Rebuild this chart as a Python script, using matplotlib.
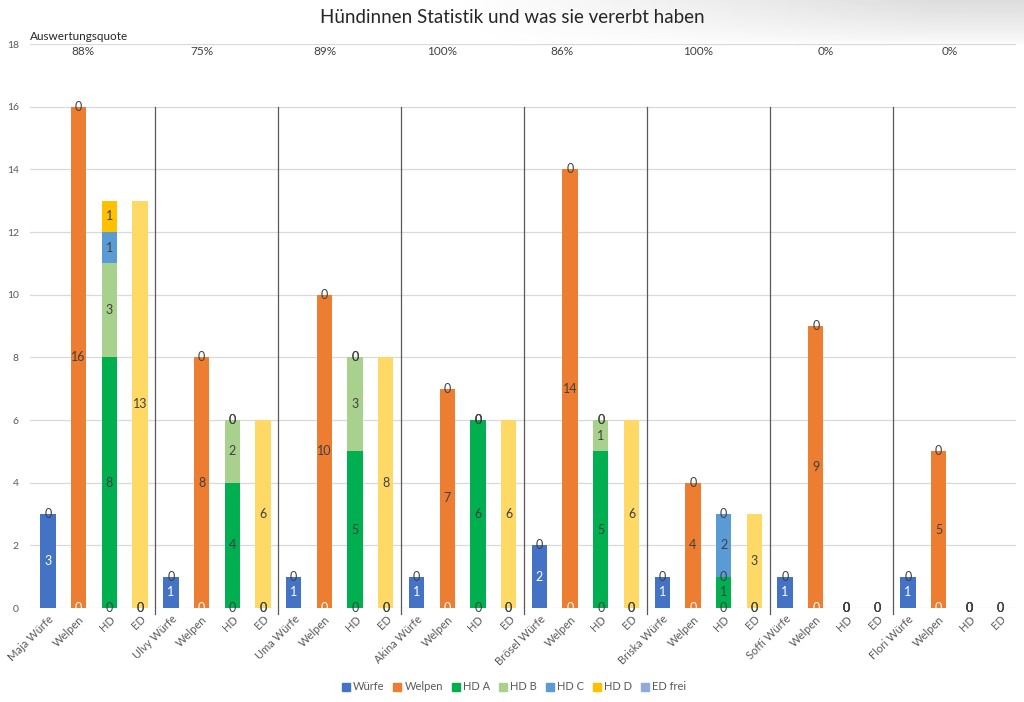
import numpy as np
import matplotlib
matplotlib.use("Agg")
import matplotlib.pyplot as plt
from matplotlib.patches import Patch

plt.rcParams["font.family"] = ["Lato", "DejaVu Sans"]

# data
HUENDINNEN = ["Maja", "Ulvy", "Uma", "Akina", "Brösel", "Briska", "Soffi", "Flori"]
WUERFE = [3, 1, 1, 1, 2, 1, 1, 1]
WELPEN = [16, 8, 10, 7, 14, 4, 9, 5]
HD_A = [8, 4, 5, 6, 5, 1, 0, 0]
HD_B = [3, 2, 3, 0, 1, 0, 0, 0]
HD_C = [1, 0, 0, 0, 0, 2, 0, 0]
HD_D = [1, 0, 0, 0, 0, 0, 0, 0]
ED = [13, 6, 8, 6, 6, 3, 0, 0]
QUOTE = ["88%", "75%", "89%", "100%", "86%", "100%", "0%", "0%"]

# where Excel put the quote labels (in category units)
QUOTE_POS = [1.14, 5.02, 9.02, 12.83, 16.74, 21.17, 25.33, 29.37]

COLORS = {
    "Würfe": "#4472C4",
    "Welpen": "#ED7D31",
    "HD A": "#00B050",
    "HD B": "#A9D18E",
    "HD C": "#5B9BD5",
    "HD D": "#FFC000",
    "ED frei": "#8FAADC",
    "ED": "#FFD966",
}
DARK = "#404040"
GRAY = "#595959"


def build_stacks():
    """Returns per-category lists of (series, value, label colour)."""
    cats, stacks = [], []
    for i, name in enumerate(HUENDINNEN):
        cats += [f"{name} Würfe", "Welpen", "HD", "ED"]
        stacks.append([("Würfe", WUERFE[i], "white"), ("Welpen", 0, DARK)])
        stacks.append([("Würfe", 0, "white"), ("Welpen", WELPEN[i], DARK),
                       ("HD A", 0, DARK)])
        stacks.append([("Welpen", 0, DARK), ("HD A", HD_A[i], DARK),
                       ("HD B", HD_B[i], DARK), ("HD C", HD_C[i], DARK),
                       ("HD D", HD_D[i], DARK)])
        stacks.append([("HD A", 0, DARK), ("HD B", 0, DARK),
                       ("ED", ED[i], DARK)])
    return cats, stacks


categories, stacks = build_stacks()
x = np.arange(len(categories))

fig = plt.figure(figsize=(10.24, 7.02), dpi=100)

# soft grey shade at the top right, as in the screenshot
shade = fig.add_axes([0.35, 0.935, 0.65, 0.065], zorder=0)
gx = np.linspace(0, 1, 200)
gy = np.linspace(1, 0, 40)
grad = np.clip(gx[None, :] * 1.4 - 0.2, 0, 1) * gy[:, None] ** 0.7
shade.imshow(1 - 0.13 * grad, cmap="gray", vmin=0, vmax=1, aspect="auto",
             extent=[0, 1, 0, 1])
shade.axis("off")

ax = fig.add_axes([30 / 1024, 1 - 608 / 702, 986 / 1024, 564 / 702], zorder=1)
ax.patch.set_alpha(0)

width = 0.5
for xi, stack in zip(x, stacks):
    bottom = 0
    for series, val, lc in stack:
        ax.bar(xi, val, width, bottom=bottom, color=COLORS[series], zorder=2)
        ax.text(xi, bottom + val / 2, str(val), ha="center", va="center",
                fontsize=9, color=lc, zorder=4)
        bottom += val

# group separators
for k in range(1, len(HUENDINNEN)):
    ax.plot([4 * k - 0.5, 4 * k - 0.5], [-0.2, 16], color=GRAY, lw=0.9,
            zorder=3, clip_on=False)

# Auswertungsquote row
for pos, q in zip(QUOTE_POS, QUOTE):
    ax.text(pos, 17.75, q, ha="center", va="center", fontsize=8.5, color=DARK)
ax.text(0, 1.004, "Auswertungsquote", transform=ax.transAxes, ha="left",
        va="bottom", fontsize=8.5, color="#262626")

ax.set_xlim(-0.586, 31.52)
ax.set_ylim(0, 18)
ax.set_yticks(range(0, 19, 2))
ax.yaxis.grid(True, color="#D9D9D9", lw=0.9, zorder=0)
ax.set_axisbelow(True)
for s in ax.spines.values():
    s.set_visible(False)
ax.tick_params(axis="y", length=0, labelsize=7.5, labelcolor=GRAY, pad=8)
ax.tick_params(axis="x", length=0, pad=4)
ax.set_xticks(x)
ax.set_xticklabels(categories, rotation=45, ha="right", rotation_mode="anchor",
                   fontsize=8, color=GRAY)

fig.text(0.5, 0.975, "Hündinnen Statistik und was sie vererbt haben",
         ha="center", va="center", fontsize=13.5, color="#262626")

legend_names = ["Würfe", "Welpen", "HD A", "HD B", "HD C", "HD D", "ED frei"]
handles = [Patch(color=COLORS[n], label=n) for n in legend_names]
fig.legend(handles=handles, loc="center", bbox_to_anchor=(0.502, 1 - 687 / 702),
           ncol=7, frameon=False, fontsize=8, handlelength=0.7,
           handleheight=0.7, handletextpad=0.3, columnspacing=0.8,
           labelcolor=GRAY)

fig.savefig("out.png", dpi=100)
plt.close(fig)
